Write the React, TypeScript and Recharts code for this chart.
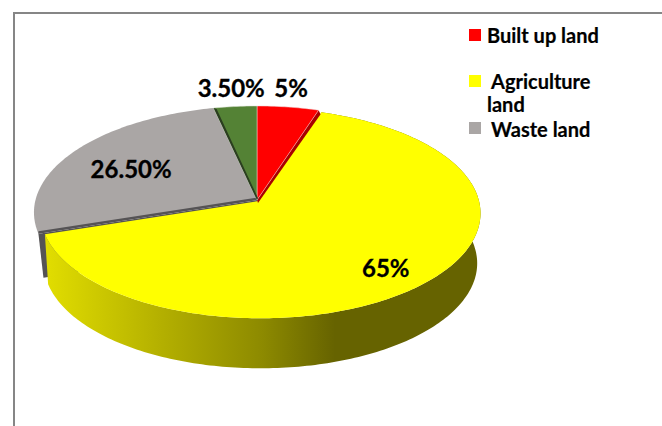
import { PieChart, Pie, Legend } from 'recharts'

const categories = ['Built up land', 'Agriculture land', 'Waste land', 'Other land']
const shares = [5, 65, 26.5, 3.5]
const shareLabels = ['5%', '65%', '26.50%', '3.50%']
const sliceColors = ['#ff0000', '#ffff00', '#aaa6a5', '#548235']
const legendCount = 3

const data = categories.map((name, i) => ({ name, value: shares[i] }))

// fake 3D: circle is tipped back, front edge comes out bigger than the back
const TILT = 105 / 221.5
const PERSPECTIVE = 0.117
const DEPTH = 50
const RAD = Math.PI / 180

const font = 'Lato, sans-serif'

// label offset from the projected rim point of each slice
const labelNudge = [[3, -20], [-42, -13], [56, 18], [-4, -19.5]]
const legendRows = [
  { swatch: 29, text: 23, indent: 0, line: 25 },
  { swatch: 75, text: 70, indent: 4, line: 23 },
  { swatch: 122, text: 120, indent: 4, line: 18 },
]

type Pt = [number, number]

function project(cx: number, cy: number, r: number, angle: number): Pt {
  const u = Math.cos(angle * RAD)
  const v = Math.sin(angle * RAD)
  const w = 1 + PERSPECTIVE * v
  return [cx + (r * u) / w, cy - (r * TILT * v) / w]
}

function arc(cx: number, cy: number, r: number, a0: number, a1: number): Pt[] {
  const steps = Math.max(2, Math.ceil(Math.abs(a1 - a0)))
  const pts: Pt[] = []
  for (let i = 0; i <= steps; i++) pts.push(project(cx, cy, r, a0 + ((a1 - a0) * i) / steps))
  return pts
}

const toPath = (pts: Pt[]) =>
  'M' + pts.map((p) => `${p[0].toFixed(2)},${p[1].toFixed(2)}`).join('L') + 'Z'

// yellow slice sits slightly out of the pie, with the grey cut face behind it
function AgricultureSlice(props: any) {
  const { cx, cy, outerRadius, startAngle, endAngle, index, fill } = props
  if (index !== 1) return <g />
  const rim = arc(cx + 3.5, cy + 1, outerRadius - 3, startAngle, endAngle)
  const tip = project(cx, cy, outerRadius, endAngle)
  const apex: Pt = [cx, cy]
  const cutFace: Pt[] = [apex, tip, [tip[0] + 5, tip[1] + 44], [apex[0] + 5, apex[1] + 44]]
  // lower rim pulls in a little at both ends
  const lowerRim: Pt[] = rim.map((p) => [cx + 2 + (p[0] - cx - 2) * 0.985, p[1] + DEPTH])
  const side = [...rim, ...lowerRim.reverse()]
  return (
    <g>
      <defs>
        <linearGradient id="sideShade" gradientUnits="userSpaceOnUse" x1={44} y1={0} x2={335} y2={0}>
          <stop offset="0" stopColor="#e2de00" />
          <stop offset="0.4" stopColor="#b4b000" />
          <stop offset="0.75" stopColor="#8d8a00" />
          <stop offset="1" stopColor="#666300" />
        </linearGradient>
      </defs>
      <path d={toPath(cutFace)} fill="#555355" />
      <path d={toPath(side)} fill="url(#sideShade)" />
      <path d={toPath([[cx + 1.5, cy + 1], ...rim])} fill={fill} />
    </g>
  )
}

function TopSlice(props: any) {
  const { cx, cy, outerRadius, startAngle, endAngle, index, fill } = props
  if (index === 1) return <g />
  const rim = arc(cx, cy, outerRadius, startAngle, endAngle)
  const apex: Pt = [cx, cy]
  const face = toPath([apex, ...rim])
  if (index === 0) {
    const tip = rim[rim.length - 1]
    return (
      <g>
        <path d={toPath([apex, tip, [tip[0] + 2, tip[1] + 4], [apex[0] + 1, apex[1] + 3]])} fill="#a80000" />
        <path d={face} fill={fill} stroke="#f0d0d0" strokeWidth={0.5} />
      </g>
    )
  }
  if (index === 2) {
    const tip = rim[0]
    return (
      <g>
        <path d={face} fill={fill} />
        <path d={toPath([apex, tip, [tip[0], tip[1] - 2.5], [apex[0], apex[1] - 2.5]])} fill="#555355" />
      </g>
    )
  }
  const tip = rim[0]
  return (
    <g>
      <path d={face} fill={fill} stroke="#d8e0d0" strokeWidth={0.5} />
      <path d={toPath([apex, tip, [tip[0] + 3, tip[1] + 1], [apex[0] + 1, apex[1] - 2]])} fill="#2b3d20" />
    </g>
  )
}

function SliceLabel(props: any) {
  const { cx, cy, outerRadius, midAngle, index } = props
  const rimPt = project(cx, cy, outerRadius, midAngle)
  return (
    <text
      x={rimPt[0] + labelNudge[index][0]}
      y={rimPt[1] + labelNudge[index][1]}
      textAnchor="middle"
      dominantBaseline="central"
      fontFamily={font}
      fontWeight={700}
      fontSize={24}
      fill="#000"
      stroke="#000"
      strokeWidth={0.3}
    >
      {shareLabels[index]}
    </text>
  )
}

function LandLegend() {
  return (
    <div style={{ position: 'relative', width: 662, height: 0 }}>
      {legendRows.slice(0, legendCount).map((row, i) => (
        <div key={categories[i]}>
          <div style={{ position: 'absolute', left: 469, top: row.swatch, width: 12, height: 12, background: sliceColors[i] }} />
          <div
            style={{
              position: 'absolute',
              left: 487,
              top: row.text,
              width: 125,
              textIndent: row.indent,
              fontFamily: font,
              fontWeight: 700,
              fontSize: 20,
              lineHeight: `${row.line}px`,
              color: '#000',
              textAlign: 'left',
              WebkitTextStroke: '0.2px #000',
            }}
          >
            {categories[i]}
          </div>
        </div>
      ))}
    </div>
  )
}

export default function App() {
  const pieProps = {
    dataKey: 'value',
    nameKey: 'name',
    cx: 257,
    cy: 200,
    outerRadius: 221.5,
    startAngle: 90,
    endAngle: -270,
    stroke: 'none',
    isAnimationActive: false,
  }
  const cells = data.map((d, i) => ({ ...d, fill: sliceColors[i] }))

  return (
    <div style={{ position: 'absolute', left: 0, top: 0, width: 662, height: 426, background: '#fff', overflow: 'hidden' }}>
      <div style={{ position: 'absolute', left: 13, top: 12, right: 0, height: 2, background: '#868686' }} />
      <div style={{ position: 'absolute', left: 13, top: 12, bottom: 0, width: 2, background: '#868686' }} />
      <PieChart width={662} height={426} margin={{ top: 0, right: 0, bottom: 0, left: 0 }}>
        <Pie {...pieProps} data={cells} shape={AgricultureSlice} label={false} labelLine={false} />
        <Pie {...pieProps} data={cells} shape={TopSlice} label={SliceLabel} labelLine={false} />
        <Legend content={LandLegend} wrapperStyle={{ left: 0, top: 0, width: 662 }} />
      </PieChart>
    </div>
  )
}
